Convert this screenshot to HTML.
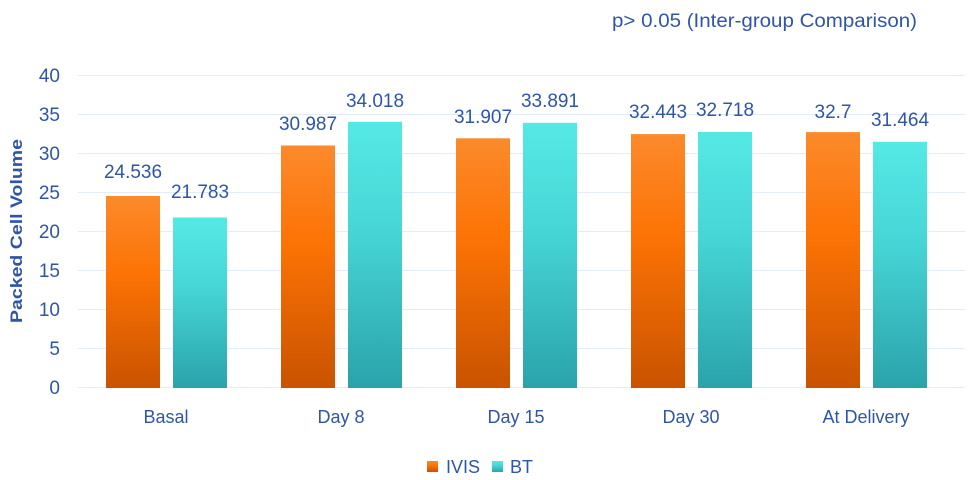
<!DOCTYPE html>
<html><head><meta charset="utf-8"><style>
html,body{margin:0;padding:0;background:#fff;}
svg{display:block;font-family:"Liberation Sans",sans-serif;}
text{fill:#2f55a8;}
</style></head><body>
<svg width="979" height="480" xmlns="http://www.w3.org/2000/svg">
<defs>
<linearGradient id="o" x1="0" y1="0" x2="0" y2="1">
<stop offset="0" stop-color="#fb8a2c"/><stop offset="0.4" stop-color="#fd7305"/><stop offset="1" stop-color="#c95300"/>
</linearGradient>
<linearGradient id="c" x1="0" y1="0" x2="0" y2="1">
<stop offset="0" stop-color="#55e9e5"/><stop offset="0.4" stop-color="#47d6d6"/><stop offset="1" stop-color="#2aa3aa"/>
</linearGradient>
</defs>
<text x="612" y="27" font-size="19" textLength="305" lengthAdjust="spacingAndGlyphs">p&gt; 0.05 (Inter-group Comparison)</text>
<g stroke="#e3ecf7" stroke-width="1">
<line x1="78" x2="965" y1="75.5" y2="75.5"/><line x1="78" x2="965" y1="114.5" y2="114.5"/>
<line x1="78" x2="965" y1="153.5" y2="153.5"/><line x1="78" x2="965" y1="192.5" y2="192.5"/>
<line x1="78" x2="965" y1="231.5" y2="231.5"/><line x1="78" x2="965" y1="270.5" y2="270.5"/>
<line x1="78" x2="965" y1="309.5" y2="309.5"/><line x1="78" x2="965" y1="348.5" y2="348.5"/>
<line x1="78" x2="965" y1="387.5" y2="387.5"/>
</g>
<g font-size="19" text-anchor="end">
<text x="60" y="82">40</text><text x="60" y="121">35</text><text x="60" y="160">30</text>
<text x="60" y="199">25</text><text x="60" y="238">20</text><text x="60" y="277">15</text>
<text x="60" y="316">10</text><text x="60" y="355">5</text><text x="60" y="394">0</text>
</g>
<text transform="translate(22,231) rotate(-90)" font-size="17" font-weight="bold" text-anchor="middle" textLength="184" lengthAdjust="spacingAndGlyphs">Packed Cell Volume</text>
<g>
<rect x="106" y="196" width="54" height="192" fill="url(#o)"/>
<rect x="173" y="217.5" width="54" height="170.5" fill="url(#c)"/>
<rect x="281" y="145.5" width="54" height="242.5" fill="url(#o)"/>
<rect x="348" y="121.8" width="54" height="266.2" fill="url(#c)"/>
<rect x="456" y="138.3" width="54" height="249.7" fill="url(#o)"/>
<rect x="523" y="122.8" width="54" height="265.2" fill="url(#c)"/>
<rect x="631" y="134.1" width="54" height="253.9" fill="url(#o)"/>
<rect x="698" y="132" width="54" height="256" fill="url(#c)"/>
<rect x="806" y="132.1" width="54" height="255.9" fill="url(#o)"/>
<rect x="873" y="141.8" width="54" height="246.2" fill="url(#c)"/>
</g>
<g font-size="19" text-anchor="middle">
<text x="133" y="178">24.536</text><text x="200" y="198">21.783</text>
<text x="308" y="130">30.987</text><text x="375" y="107">34.018</text>
<text x="483" y="123">31.907</text><text x="550" y="107">33.891</text>
<text x="658" y="118">32.443</text><text x="725" y="116">32.718</text>
<text x="833" y="118">32.7</text><text x="900" y="126">31.464</text>
</g>
<g font-size="18" text-anchor="middle">
<text x="166" y="423">Basal</text><text x="341" y="423">Day 8</text>
<text x="516" y="423">Day 15</text><text x="691" y="423">Day 30</text>
<text x="866" y="423">At Delivery</text>
</g>
<rect x="427" y="461" width="11" height="11" fill="url(#o)"/>
<text x="446" y="473" font-size="18">IVIS</text>
<rect x="492" y="461" width="11" height="11" fill="url(#c)"/>
<text x="510" y="473" font-size="18">BT</text>
</svg>
</body></html>
